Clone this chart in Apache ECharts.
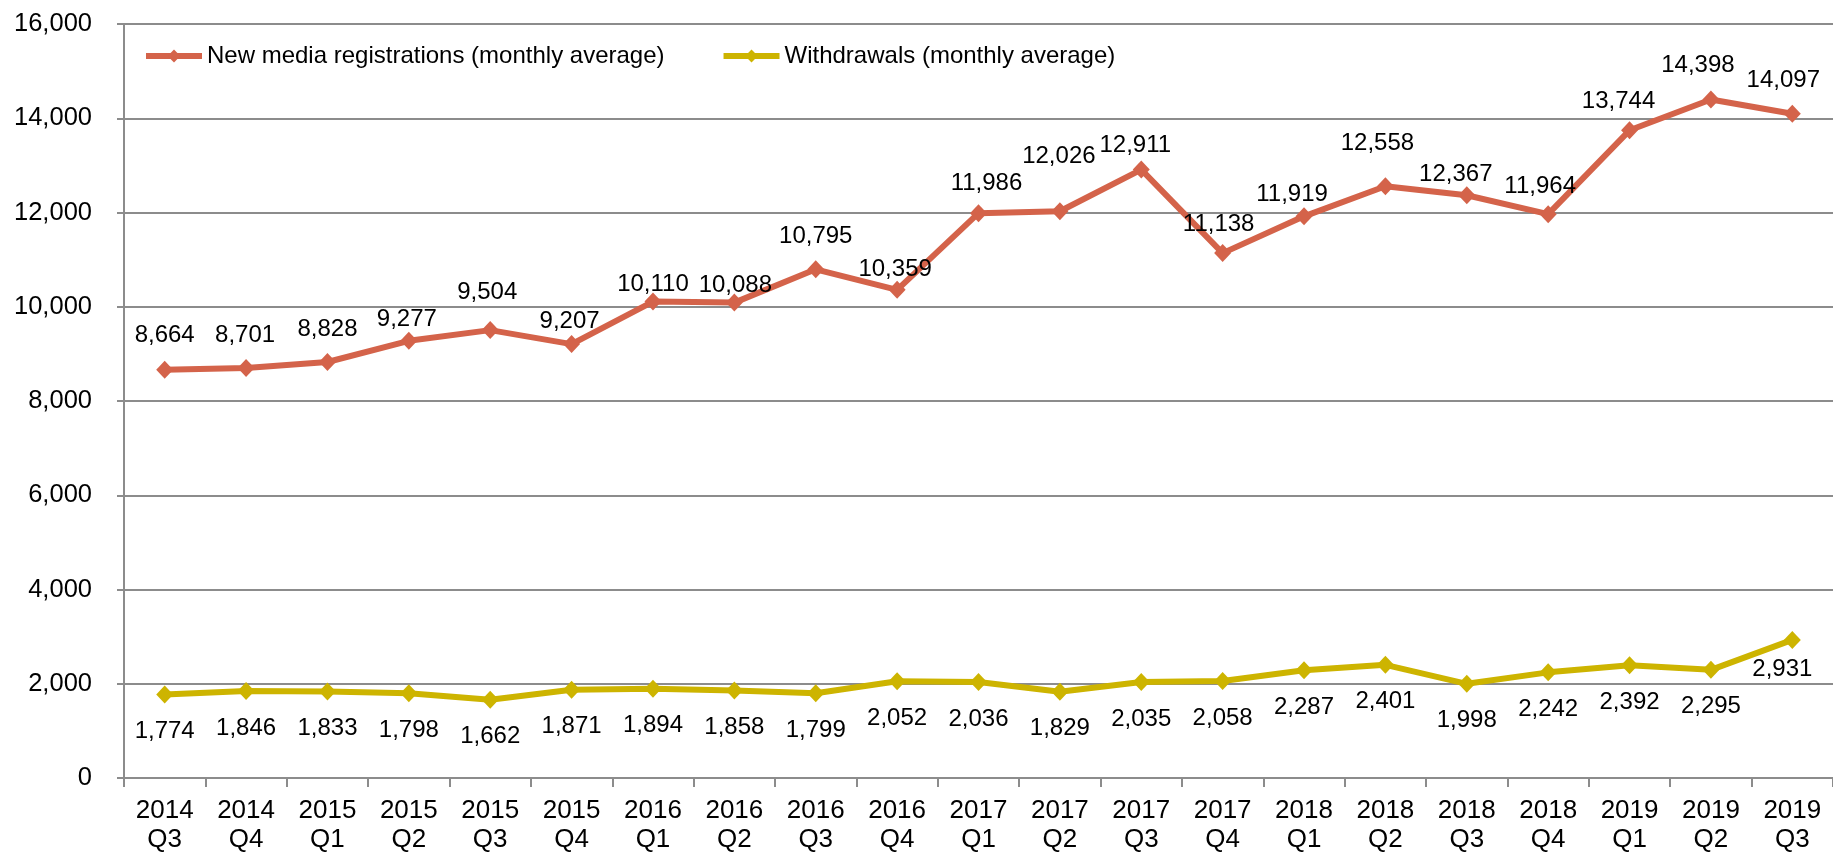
<!DOCTYPE html>
<html>
<head>
<meta charset="utf-8">
<title>Media registrations and withdrawals</title>
<script src="https://cdn.jsdelivr.net/npm/echarts@6/dist/echarts.min.js"></script>
<style>
  html, body { margin: 0; padding: 0; background: #ffffff; }
  #chart { width: 1833px; height: 853px; }
</style>
</head>
<body>
<div id="chart"></div>
<script>
// Quarter labels along the x axis
const quarters = [
  '2014\nQ3', '2014\nQ4', '2015\nQ1', '2015\nQ2', '2015\nQ3', '2015\nQ4',
  '2016\nQ1', '2016\nQ2', '2016\nQ3', '2016\nQ4', '2017\nQ1', '2017\nQ2',
  '2017\nQ3', '2017\nQ4', '2018\nQ1', '2018\nQ2', '2018\nQ3', '2018\nQ4',
  '2019\nQ1', '2019\nQ2', '2019\nQ3'
];

// Monthly averages per quarter
const registrations = [
  8664, 8701, 8828, 9277, 9504, 9207, 10110, 10088, 10795, 10359, 11986,
  12026, 12911, 11138, 11919, 12558, 12367, 11964, 13744, 14398, 14097
];
const withdrawals = [
  1774, 1846, 1833, 1798, 1662, 1871, 1894, 1858, 1799, 2052, 2036,
  1829, 2035, 2058, 2287, 2401, 1998, 2242, 2392, 2295, 2931
];

const seriesNames = [
  'New media registrations (monthly average)',
  'Withdrawals (monthly average)'
];

// Value axis range
const yMin = 0;
const yMax = 16000;
const yStep = 2000;

// Label nudges [dx, dy] relative to each marker's centre
const registrationLabelNudge = [
  [0, -34], [-1, -33], [0, -33], [-2, -21], [-3, -38], [-2, -23], [0, -17],
  [1, -17], [0, -33], [-2, -20], [8, -30], [-1, -55], [-6, -24], [-4, -29],
  [-12, -22], [-8, -43], [-11, -21], [-8, -28], [-11, -29], [-13, -34], [-9, -33]
];
const withdrawalLabelNudge = withdrawals.map(function (v, i) {
  return i === withdrawals.length - 1 ? [-10, 29] : [0, 37];
});

const FONT = '"Liberation Sans", Arial, Helvetica, sans-serif';
const RED = '#D4634A';
const GOLD = '#CDB400';
const GRID_GREY = '#8C8C8C';

function fmt(v) {
  return Number(v).toLocaleString('en-US');
}

function withNudges(values, nudges) {
  return values.map(function (v, i) {
    return { value: v, label: { offset: nudges[i] } };
  });
}

function lineSeries(name, values, nudges, color) {
  return {
    name: name,
    type: 'line',
    data: withNudges(values, nudges),
    symbol: 'diamond',
    symbolSize: [17, 18],
    showAllSymbol: true,
    lineStyle: { color: color, width: 6 },
    itemStyle: { color: color },
    emphasis: { disabled: true },
    animation: false,
    label: {
      show: true,
      position: 'inside',
      color: '#000000',
      fontFamily: FONT,
      fontSize: 24,
      textBorderWidth: 0,
      formatter: function (p) { return fmt(p.value); }
    }
  };
}

const chart = echarts.init(document.getElementById('chart'), null, { renderer: 'canvas' });

chart.setOption({
  backgroundColor: '#ffffff',
  animation: false,
  textStyle: { fontFamily: FONT, color: '#000000' },
  legend: {
    left: 143,
    top: 44,
    padding: 0,
    itemWidth: 56,
    itemHeight: 16,
    itemGap: 56,
    textStyle: { fontFamily: FONT, fontSize: 24, color: '#000000' },
    lineStyle: { width: 6 },
    data: seriesNames
  },
  grid: {
    left: 124,
    right: 0,
    top: 24,
    bottom: 75,
    containLabel: false,
    outerBoundsMode: 'none'
  },
  xAxis: {
    type: 'category',
    data: quarters,
    boundaryGap: true,
    axisLine: { show: true, lineStyle: { color: GRID_GREY, width: 2 } },
    axisTick: { show: true, length: 9, lineStyle: { color: GRID_GREY, width: 2 } },
    axisLabel: {
      interval: 0,
      margin: 18,
      fontFamily: FONT,
      fontSize: 26,
      lineHeight: 29.5,
      color: '#000000'
    },
    splitLine: { show: false }
  },
  yAxis: {
    type: 'value',
    min: yMin,
    max: yMax,
    interval: yStep,
    axisLine: { show: true, lineStyle: { color: GRID_GREY, width: 2 } },
    axisTick: { show: true, length: 7, lineStyle: { color: GRID_GREY, width: 2 } },
    axisLabel: {
      margin: 32,
      fontFamily: FONT,
      fontSize: 25.5,
      color: '#000000',
      formatter: function (v) { return fmt(v); }
    },
    splitLine: { show: true, lineStyle: { color: GRID_GREY, width: 2 } }
  },
  series: [
    lineSeries(seriesNames[0], registrations, registrationLabelNudge, RED),
    lineSeries(seriesNames[1], withdrawals, withdrawalLabelNudge, GOLD)
  ]
});
</script>
</body>
</html>
